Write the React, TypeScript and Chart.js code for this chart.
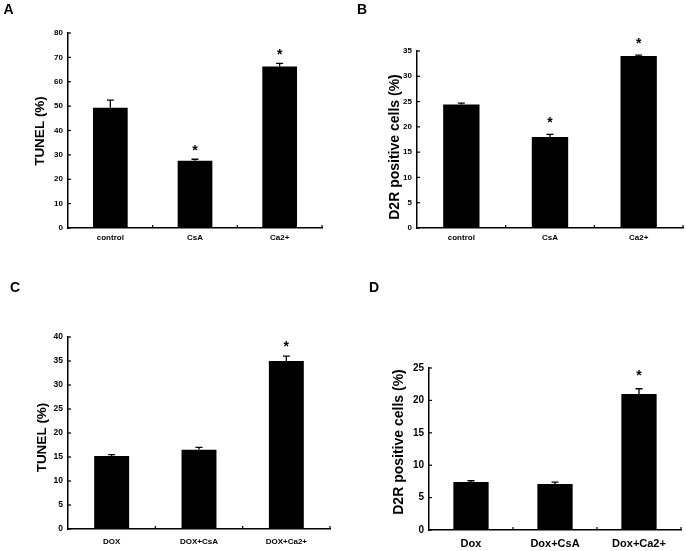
import React, { useEffect, useRef } from "react";
import { Chart, registerables } from "chart.js";

Chart.register(...registerables);

// ---- Data ----
const catsAB = ["control", "CsA", "Ca2+"];
const catsC = ["DOX", "DOX+CsA", "DOX+Ca2+"];
const catsD = ["Dox", "Dox+CsA", "Dox+Ca2+"];

const valuesA = [49.3, 27.6, 66.3];
const errorsA = [3.2, 0.6, 1.2];
const starsA = [false, true, true];

const valuesB = [24.4, 18.0, 34.0];
const errorsB = [0.3, 0.5, 0.2];
const starsB = [false, true, true];

const valuesC = [15.2, 16.5, 35.0];
const errorsC = [0.3, 0.5, 1.0];
const starsC = [false, false, true];

const valuesD = [7.4, 7.1, 21.0];
const errorsD = [0.2, 0.3, 0.8];
const starsD = [false, false, true];

const FONT = "'Liberation Sans', Arial, sans-serif";

type Panel = {
  letter: string;
  cats: string[];
  values: number[];
  errors: number[];
  stars: boolean[];
  yMax: number;
  yStep: number;
  yTitle: string;
  x: number;
  y: number;
  w: number;
  h: number;
  area: { left: number; right: number; top: number; bottom: number };
  tickFont: number;
  xFont: number;
  xPad: number;
  yTitleFont: number;
  yTitlePos: [number, number];
  letterPos: [number, number];
  barPct: number;
  starOffset: number;
  starFont: number;
};

const panels: Panel[] = [
  {
    letter: "A", cats: catsAB, values: valuesA, errors: errorsA, stars: starsA,
    yMax: 80, yStep: 10, yTitle: "TUNEL (%)",
    x: 0, y: 0, w: 343, h: 275,
    area: { left: 68, right: 322, top: 33, bottom: 228 },
    tickFont: 8, xFont: 8, xPad: 5, yTitleFont: 13.5, yTitlePos: [40, 131], letterPos: [8.5, 10],
    barPct: 0.41, starOffset: 12, starFont: 14,
  },
  {
    letter: "B", cats: catsAB, values: valuesB, errors: errorsB, stars: starsB,
    yMax: 35, yStep: 5, yTitle: "D2R positive cells (%)",
    x: 343, y: 0, w: 343, h: 275,
    area: { left: 74, right: 340, top: 51, bottom: 228 },
    tickFont: 8, xFont: 8, xPad: 4.5, yTitleFont: 14, yTitlePos: [52, 147], letterPos: [19, 10],
    barPct: 0.41, starOffset: 15, starFont: 14,
  },
  {
    letter: "C", cats: catsC, values: valuesC, errors: errorsC, stars: starsC,
    yMax: 40, yStep: 5, yTitle: "TUNEL (%)",
    x: 0, y: 275, w: 343, h: 276,
    area: { left: 68, right: 330, top: 62, bottom: 254 },
    tickFont: 8.5, xFont: 8, xPad: 7.5, yTitleFont: 13.5, yTitlePos: [42, 162.5], letterPos: [15, 13],
    barPct: 0.40, starOffset: 13, starFont: 14,
  },
  {
    letter: "D", cats: catsD, values: valuesD, errors: errorsD, stars: starsD,
    yMax: 25, yStep: 5, yTitle: "D2R positive cells (%)",
    x: 343, y: 275, w: 343, h: 276,
    area: { left: 86, right: 338, top: 93, bottom: 255 },
    tickFont: 10, xFont: 11, xPad: 7.5, yTitleFont: 14, yTitlePos: [56, 167], letterPos: [31, 13],
    barPct: 0.42, starOffset: 17, starFont: 14,
  },
];

function makePlugin(p: Panel) {
  return {
    id: "decor" + p.letter,
    afterDraw(chart: any) {
      const ctx = chart.ctx as CanvasRenderingContext2D;
      const xs = chart.scales.x;
      const ys = chart.scales.y;
      const ca = chart.chartArea;
      ctx.save();
      ctx.strokeStyle = "#000";
      ctx.fillStyle = "#000";
      // y tick marks (inward)
      ctx.lineWidth = 1.2;
      ys.ticks.forEach((_t: any, i: number) => {
        const py = ys.getPixelForTick(i);
        ctx.beginPath();
        ctx.moveTo(ca.left, py);
        ctx.lineTo(ca.left + 3, py);
        ctx.stroke();
      });
      // x tick marks at category boundaries (inward)
      for (let i = 0; i < p.cats.length; i++) {
        const px = xs.getPixelForValue(i + 0.5);
        ctx.beginPath();
        ctx.moveTo(px, ca.bottom);
        ctx.lineTo(px, ca.bottom - 3);
        ctx.stroke();
      }
      // error bars + stars
      const meta = chart.getDatasetMeta(0);
      meta.data.forEach((bar: any, i: number) => {
        const cx = bar.x;
        const top = ys.getPixelForValue(p.values[i]);
        const et = ys.getPixelForValue(p.values[i] + p.errors[i]);
        ctx.lineWidth = 1.3;
        ctx.beginPath();
        ctx.moveTo(cx, top);
        ctx.lineTo(cx, et);
        ctx.moveTo(cx - 3.5, et);
        ctx.lineTo(cx + 3.5, et);
        ctx.stroke();
        if (p.stars[i]) {
          ctx.font = `bold ${p.starFont}px ${FONT}`;
          ctx.textAlign = "center";
          ctx.textBaseline = "alphabetic";
          const centerY = et - p.starOffset;
          ctx.fillText("*", cx, centerY + 0.57 * p.starFont);
        }
      });
      // y title
      ctx.save();
      ctx.translate(p.yTitlePos[0], p.yTitlePos[1]);
      ctx.rotate(-Math.PI / 2);
      ctx.font = `bold ${p.yTitleFont}px ${FONT}`;
      ctx.textAlign = "center";
      ctx.textBaseline = "middle";
      ctx.fillText(p.yTitle, 0, 0);
      ctx.restore();
      // panel letter
      ctx.font = `bold 14px ${FONT}`;
      ctx.textAlign = "center";
      ctx.textBaseline = "middle";
      ctx.fillText(p.letter, p.letterPos[0], p.letterPos[1]);
      ctx.restore();
    },
  };
}

function PanelChart({ p }: { p: Panel }) {
  const ref = useRef<HTMLCanvasElement | null>(null);
  useEffect(() => {
    if (!ref.current) return;
    const chart = new Chart(ref.current, {
      type: "bar",
      data: {
        labels: p.cats,
        datasets: [
          {
            data: p.values,
            backgroundColor: "#000",
            borderWidth: 0,
            barPercentage: p.barPct,
            categoryPercentage: 1,
          },
        ],
      },
      options: {
        animation: false,
        responsive: false,
        devicePixelRatio: 1,
        events: [],
        layout: {
          padding: { left: 0, top: p.area.top, right: p.w - p.area.right, bottom: 0 },
        },
        plugins: { legend: { display: false }, tooltip: { enabled: false }, title: { display: false } },
        scales: {
          x: {
            grid: { display: true, drawOnChartArea: false, drawTicks: false, color: "rgba(0,0,0,0)" },
            border: { display: true, color: "#000", width: 1.5 },
            ticks: {
              color: "#000",
              padding: p.xPad,
              maxRotation: 0,
              autoSkip: false,
              font: { family: FONT, size: p.xFont, weight: "bold" },
            },
            afterFit: (s: any) => {
              s.height = p.h - p.area.bottom;
            },
          },
          y: {
            min: 0,
            max: p.yMax,
            grid: { display: true, drawOnChartArea: false, drawTicks: false, color: "rgba(0,0,0,0)" },
            border: { display: true, color: "#000", width: 1.5 },
            ticks: {
              stepSize: p.yStep,
              color: "#000",
              padding: 5,
              font: { family: FONT, size: p.tickFont, weight: "bold" },
            },
            afterFit: (s: any) => {
              s.width = p.area.left;
            },
          },
        },
      } as any,
      plugins: [makePlugin(p)],
    });
    return () => chart.destroy();
  }, [p]);
  return (
    <canvas
      ref={ref}
      width={p.w}
      height={p.h}
      style={{ position: "absolute", left: p.x, top: p.y, width: p.w, height: p.h }}
    />
  );
}

export default function App() {
  return (
    <div style={{ position: "absolute", left: 0, top: 0, width: 686, height: 551, background: "#fff" }}>
      {panels.map((p) => (
        <PanelChart key={p.letter} p={p} />
      ))}
    </div>
  );
}
